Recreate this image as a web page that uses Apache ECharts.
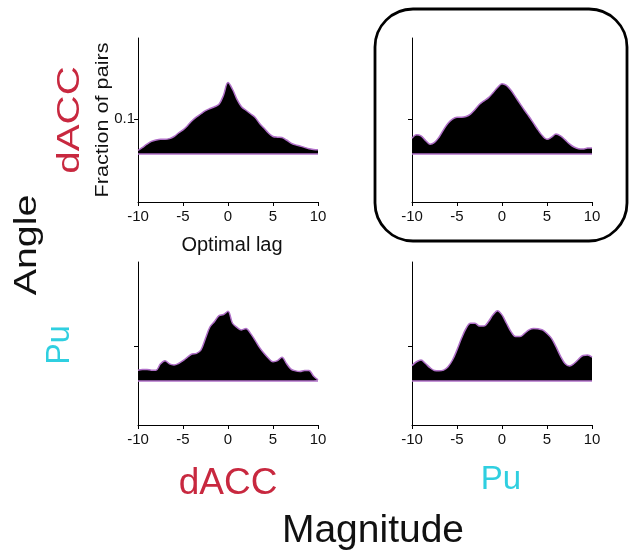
<!DOCTYPE html>
<html>
<head>
<meta charset="utf-8">
<script src="https://cdn.jsdelivr.net/npm/echarts@6/dist/echarts.min.js"></script>
<style>html,body{margin:0;padding:0;background:#fff}#chart{width:630px;height:554px}</style>
</head>
<body>
<div id="chart"></div>
<script>
// Optimal lag (x values)
var lags = [-10,-9.5,-9,-8.5,-8,-7.5,-7,-6.5,-6,-5.5,-5,-4.5,-4,-3.5,-3,-2.5,-2,-1.5,-1,-0.5,0,0.5,1,1.5,2,2.5,3,3.5,4,4.5,5,5.5,6,6.5,7,7.5,8,8.5,9,9.5,10];
var xTicks = [-10, -5, 0, 5, 10];
var yTicks = [0.1];
// Fraction of pairs, rows = Angle region, columns = Magnitude region
var angleDACC_magDACC = [0.010,0.019,0.028,0.036,0.040,0.042,0.042,0.044,0.050,0.060,0.069,0.081,0.095,0.106,0.115,0.124,0.130,0.135,0.142,0.168,0.204,0.185,0.156,0.135,0.125,0.115,0.105,0.088,0.074,0.060,0.050,0.048,0.047,0.040,0.031,0.026,0.023,0.019,0.015,0.013,0.012];
var angleDACC_magPu = [0.045,0.055,0.052,0.039,0.028,0.033,0.048,0.069,0.088,0.100,0.105,0.105,0.107,0.114,0.127,0.142,0.152,0.161,0.175,0.190,0.201,0.196,0.182,0.163,0.144,0.125,0.107,0.088,0.069,0.052,0.042,0.048,0.057,0.052,0.041,0.029,0.020,0.015,0.014,0.017,0.017];
var anglePu_magDACC = [0.031,0.033,0.033,0.031,0.031,0.049,0.058,0.049,0.046,0.050,0.058,0.068,0.077,0.079,0.089,0.122,0.155,0.170,0.187,0.190,0.199,0.165,0.153,0.146,0.150,0.136,0.117,0.096,0.079,0.065,0.055,0.058,0.068,0.050,0.034,0.029,0.027,0.030,0.030,0.014,0.003];
var anglePu_magPu = [0.044,0.055,0.060,0.050,0.038,0.030,0.029,0.031,0.041,0.060,0.089,0.122,0.150,0.165,0.165,0.157,0.157,0.170,0.189,0.201,0.189,0.165,0.141,0.127,0.127,0.136,0.146,0.150,0.149,0.146,0.136,0.122,0.098,0.071,0.050,0.043,0.050,0.062,0.073,0.074,0.068];
var panelSeries = [angleDACC_magDACC, angleDACC_magPu, anglePu_magDACC, anglePu_magPu];

var FONT = "'Liberation Sans', Arial, Helvetica, sans-serif";
var RED = '#c8283f', CYAN = '#2fcfe0', PURPLE = '#b070c8';

var grids = [
  {left:138, top:38, width:180, height:164},
  {left:412, top:38, width:180, height:164},
  {left:138, top:262, width:180, height:163},
  {left:412, top:262, width:180, height:163}
];
var yRanges = [[-0.1371,0.3314],[-0.1371,0.3314],[-0.1257,0.34],[-0.1257,0.34]];

var xAxes = [], yAxes = [], series = [];
for (var i = 0; i < 4; i++) {
  xAxes.push({
    type:'value', gridIndex:i, min:-10, max:10, interval:5,
    axisLine:{onZero:false, lineStyle:{color:'#000', width:1}},
    axisTick:{length:4, lineStyle:{color:'#000', width:1}},
    axisLabel:{fontSize:15, color:'#111', margin:7, fontFamily:FONT},
    splitLine:{show:false}
  });
  yAxes.push({
    type:'value', gridIndex:i, min:yRanges[i][0], max:yRanges[i][1],
    axisLine:{show:true, onZero:false, lineStyle:{color:'#000', width:1}},
    axisTick:{show:true, length:4, customValues:yTicks, lineStyle:{color:'#000', width:1}},
    axisLabel:{show:i===0, customValues:yTicks, fontSize:15, color:'#111', margin:3, fontFamily:FONT},
    splitLine:{show:false}
  });
  series.push({
    type:'line', xAxisIndex:i, yAxisIndex:i,
    data: lags.map(function(x, k){ return [x, panelSeries[i][k]]; }),
    smooth:0.35, showSymbol:false, symbol:'none',
    lineStyle:{color:PURPLE, width:1.5},
    areaStyle:{color:'#000', opacity:1, origin:'auto'},
    markLine:{silent:true, symbol:['none','none'], label:{show:false},
      lineStyle:{color:PURPLE, type:'solid', width:1.5},
      data:[{yAxis:0}]},
    z:2
  });
}

function vtext(txt, x, y, size, color, sx) {
  return {type:'text', x:x, y:y, rotation:Math.PI/2, scaleX:sx, scaleY:1,
    style:{text:txt, x:0, y:0, font:size+'px '+FONT, fill:color, textAlign:'center', textVerticalAlign:'middle'}};
}
function htext(txt, x, y, size, color) {
  return {type:'text', x:x, y:y,
    style:{text:txt, x:0, y:0, font:size+'px '+FONT, fill:color, textAlign:'center', textVerticalAlign:'middle'}};
}

var option = {
  animation:false,
  backgroundColor:'#fff',
  grid:grids, xAxis:xAxes, yAxis:yAxes, series:series,
  graphic:[
    {type:'rect', shape:{x:375, y:9, width:252, height:232, r:38}, style:{fill:'none', stroke:'#000', lineWidth:2.8}},
    vtext('Fraction of pairs', 103, 120, 18, '#111', 1.2),
    vtext('dACC', 70, 120, 31, RED, 1.3),
    vtext('Angle', 27, 245, 31, '#111', 1.27),
    vtext('Pu', 60, 345, 34, CYAN, 0.95),
    htext('Optimal lag', 232, 245, 20, '#111'),
    htext('dACC', 228, 484, 37, RED),
    htext('Pu', 501, 480, 33, CYAN),
    htext('Magnitude', 373, 531, 39, '#111')
  ]
};
echarts.init(document.getElementById('chart')).setOption(option);
</script>
</body>
</html>
